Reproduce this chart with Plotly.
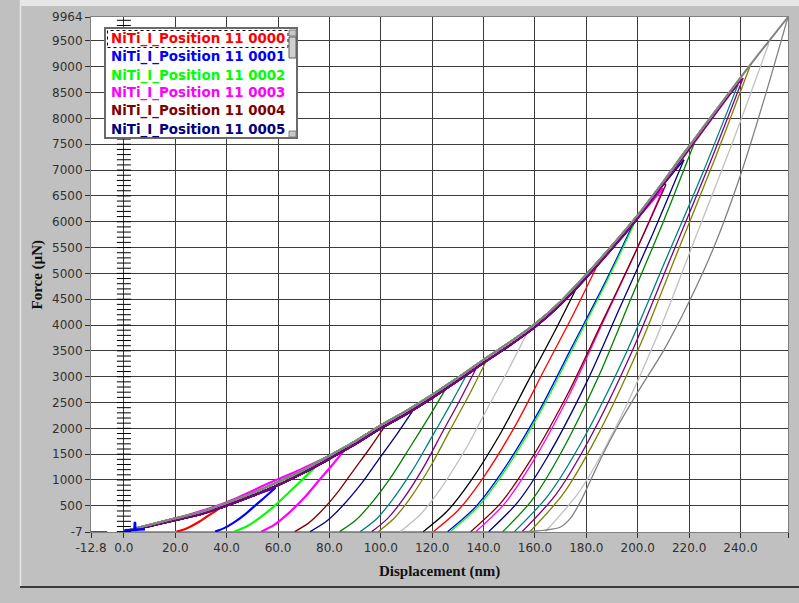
import plotly.graph_objects as go

# ---------------------------------------------------------------- data
# Loading envelope (displacement in nm, force in uN); the loading branches of the
# indents scatter between an upper and a lower edge of this band.
DEPTH_ENV = [0, 5, 10, 20, 30, 40, 50, 60, 70, 80, 90, 100, 110, 120, 130, 140,
             150, 160, 170, 180, 190, 200, 210, 220, 230, 240, 250, 258.5]
FORCE_ENV_HIGH = [0, 68, 132, 258, 380, 555, 748, 960, 1200, 1470, 1750, 2060, 2340,
                  2650, 2980, 3330, 3660, 4020, 4460, 4980, 5540, 6130, 6780, 7460,
                  8130, 8790, 9430, 9964]
FORCE_ENV_LOW = [0, 52, 108, 222, 340, 505, 692, 900, 1140, 1410, 1690, 2000, 2280,
                 2590, 2920, 3270, 3600, 3960, 4400, 4920, 5480, 6070, 6720, 7400,
                 8070, 8730, 9370, 9964]

# Indent series 0000 ... 0023
TEST_NAMES = ["NiTi_I_Position 11 %04d" % i for i in range(24)]
TEST_COLORS = ["#ff0000", "#0000ff", "#00ff00", "#ff00ff", "#800000", "#000080",
               "#008000", "#008080", "#800080", "#808000", "#c0c0c0", "#000000",
               "#ff0000", "#0000ff", "#00ff00", "#ff00ff", "#800000", "#000080",
               "#008000", "#008080", "#800080", "#808000", "#c0c0c0", "#808080"]
LOAD_EDGE = ["high", "low", "low", "high", "low", "low",
             "high", "high", "low", "low", "high", "low",
             "low", "low", "high", "low", "low", "low",
             "high", "high", "low", "high", "high", "high"]

# Unloading branches, from peak load down to zero load
UNLOAD_DEPTH = [
    [38, 35.2, 32.2, 29.3, 25.8, 23.1, 20.5],
    [59, 55.2, 51.2, 47.3, 42.6, 39.0, 35.5],
    [74, 69.0, 63.8, 58.5, 52.3, 47.7, 43],
    [87, 81.6, 75.9, 70.3, 63.5, 58.5, 53.5],
    [101, 95.5, 89.6, 83.8, 76.9, 71.7, 66.5],
    [113, 106.5, 99.6, 92.8, 84.7, 78.6, 72.5],
    [125, 118.4, 111.5, 104.5, 96.3, 90.2, 84],
    [133, 126.4, 119.5, 112.5, 104.3, 98.2, 92],
    [137, 130.5, 123.6, 116.8, 108.7, 102.6, 96.5],
    [141, 134.3, 127.1, 120.0, 111.6, 105.3, 99],
    [158, 149.9, 141.3, 132.8, 122.7, 115.1, 107.5],
    [177, 167.3, 157.0, 146.8, 134.7, 125.6, 116.5],
    [185, 174.7, 163.7, 152.8, 139.9, 130.2, 120.5],
    [198, 186.5, 174.2, 162.0, 147.6, 136.8, 126],
    [199, 187.5, 175.2, 163.0, 148.6, 137.8, 127],
    [210, 198.3, 185.9, 173.5, 158.9, 148.0, 137],
    [211, 198.8, 185.9, 173.0, 157.8, 146.4, 135],
    [218, 205.8, 192.9, 180.0, 164.8, 153.4, 142],
    [222, 210.1, 197.4, 184.8, 169.9, 158.7, 147.5],
    [239, 225.1, 210.3, 195.5, 178.1, 165.0, 152],
    [241, 227.2, 212.6, 198.0, 180.8, 167.9, 155],
    [244, 230.2, 215.6, 201.0, 183.8, 170.9, 158],
    [251, 237.1, 222.3, 207.5, 190.1, 177.0, 164],
    [258.5, 250, 240, 230, 220, 210, 200, 192, 186, 182, 178, 174, 170, 164, 155],
]
UNLOAD_FORCE = [
    [480, 384, 288, 192, 96, 38, 0],
    [850, 680, 510, 340, 170, 68, 0],
    [1230, 984, 738, 492, 246, 98, 0],
    [1650, 1320, 990, 660, 330, 132, 0],
    [2000, 1600, 1200, 800, 400, 160, 0],
    [2380, 1904, 1428, 952, 476, 190, 0],
    [2740, 2192, 1644, 1096, 548, 219, 0],
    [3000, 2400, 1800, 1200, 600, 240, 0],
    [3150, 2520, 1890, 1260, 630, 252, 0],
    [3300, 2640, 1980, 1320, 660, 264, 0],
    [3950, 3160, 2370, 1580, 790, 316, 0],
    [4800, 3840, 2880, 1920, 960, 384, 0],
    [5230, 4184, 3138, 2092, 1046, 418, 0],
    [5930, 4744, 3558, 2372, 1186, 474, 0],
    [6000, 4800, 3600, 2400, 1200, 480, 0],
    [6650, 5320, 3990, 2660, 1330, 532, 0],
    [6720, 5376, 4032, 2688, 1344, 538, 0],
    [7200, 5760, 4320, 2880, 1440, 576, 0],
    [7520, 6016, 4512, 3008, 1504, 602, 0],
    [8650, 6920, 5190, 3460, 1730, 692, 0],
    [8780, 7024, 5268, 3512, 1756, 702, 0],
    [9050, 7240, 5430, 3620, 1810, 724, 0],
    [9450, 7560, 5670, 3780, 1890, 756, 0],
    [9964, 8500, 6900, 5550, 4450, 3500, 2700, 2020, 1450, 1030, 610, 270, 90, 30, -7],
]

# Series 0003 was loaded slightly above the common envelope
LOAD_0003_DEPTH = [0, 20, 40, 57, 68.6, 76.4, 87]
LOAD_0003_FORCE = [0, 250, 570, 950, 1200, 1380, 1650]

# Approach / baseline segments and the contact spike of series 0001
BASE_DEPTH = [[-12.8, -6.5], [0.5, 160]]
BASE_FORCE = [[-7, -7], [-7, -7]]
BASE_COLORS = ["#b03030", "#70a8a8"]
SPIKE_DEPTH = [0.2, 2, 4.1, 4.3, 4.5, 6, 8.2]
SPIKE_FORCE = [25, 30, 35, 190, 35, 40, 45]

X_TICKS = [-12.8, 0, 20, 40, 60, 80, 100, 120, 140, 160, 180, 200, 220, 240, 258.5]
X_LABELS = ["-12.8", "0.0", "20.0", "40.0", "60.0", "80.0", "100.0", "120.0",
            "140.0", "160.0", "180.0", "200.0", "220.0", "240.0", "258.5"]
Y_TICKS = [-7] + list(range(500, 10000, 500)) + [9964]
Y_LABELS = [str(v) for v in Y_TICKS]

# ---------------------------------------------------------------- layout helpers
W, H = 799, 603
L, R, T, B = 91, 788, 17, 532          # plot-area edges in px


def px_x(px):
    return (px - L) / (R - L)


def px_y(py):
    return (B - py) / (B - T)


fig = go.Figure()

for bx, by, bc in zip(BASE_DEPTH, BASE_FORCE, BASE_COLORS):
    fig.add_trace(go.Scatter(x=bx, y=by, mode="lines", line=dict(color=bc, width=2),
                             showlegend=False, hoverinfo="skip"))

for i, name in enumerate(TEST_NAMES):
    h_max = UNLOAD_DEPTH[i][0]
    if i == 3:
        load_x, load_y = LOAD_0003_DEPTH, LOAD_0003_FORCE
    else:
        env = FORCE_ENV_HIGH if LOAD_EDGE[i] == "high" else FORCE_ENV_LOW
        load_x = [h for h in DEPTH_ENV if h < h_max]
        load_y = env[:len(load_x)]
        load_x = load_x + [h_max]
        load_y = load_y + [UNLOAD_FORCE[i][0]]
    thin = 2.2 if i < 4 else 1.3
    thick = 2.2 if i < 4 else 1.8
    # loading branch
    fig.add_trace(go.Scatter(x=load_x, y=load_y, mode="lines", name=name,
                             line=dict(color=TEST_COLORS[i], width=thick,
                                       shape="spline", smoothing=0.8),
                             showlegend=False))
    # unloading branch
    fig.add_trace(go.Scatter(x=UNLOAD_DEPTH[i], y=UNLOAD_FORCE[i], mode="lines",
                             name=name,
                             line=dict(color=TEST_COLORS[i], width=thin,
                                       shape="spline", smoothing=0.8),
                             showlegend=False))

fig.add_trace(go.Scatter(x=SPIKE_DEPTH, y=SPIKE_FORCE, mode="lines",
                         line=dict(color="#0000ff", width=2.5),
                         showlegend=False, hoverinfo="skip"))

# minor tick ladder on the zero-displacement line
fig.add_trace(go.Scatter(x=[0] * 100, y=list(range(0, 10000, 100)), mode="markers",
                         marker=dict(symbol="line-ew", size=10,
                                     line=dict(color="#000000", width=1)),
                         showlegend=False, hoverinfo="skip", cliponaxis=True))

tick_font = dict(family="DejaVu Sans", size=12, color="#303030")

fig.update_layout(
    width=W, height=H, autosize=False,
    margin=dict(l=L, r=W - R, t=T, b=H - B, pad=0),
    paper_bgcolor="#c0c0c0", plot_bgcolor="#ffffff",
    xaxis=dict(range=[-12.8, 258.5], tickvals=X_TICKS, ticktext=X_LABELS,
               showgrid=True, gridcolor="#3c3c3c", gridwidth=1, zeroline=False,
               showline=True, linecolor="#808080", linewidth=1, mirror=True,
               ticks="outside", ticklen=5, tickcolor="#303030",
               tickfont=tick_font),
    yaxis=dict(range=[-7, 9964], tickvals=Y_TICKS, ticktext=Y_LABELS,
               showgrid=True, gridcolor="#3c3c3c", gridwidth=1, zeroline=False,
               showline=True, linecolor="#808080", linewidth=1, mirror=True,
               ticks="outside", ticklen=5, tickcolor="#303030",
               tickfont=tick_font),
)

title_font = dict(family="Liberation Serif", size=15, color="#101010")
annotations = [
    dict(text="<b>Displacement (nm)</b>", x=0.5, y=px_y(571), xref="paper", yref="paper",
         showarrow=False, font=title_font, xanchor="center", yanchor="middle"),
    dict(text="<b>Force (µN)</b>", x=px_x(37), y=0.5, xref="paper", yref="paper",
         showarrow=False, font=title_font, textangle=-90,
         xanchor="center", yanchor="middle"),
]

# legend list box (first six series)
legend_rows = [39, 57, 75.5, 93.5, 111.5, 129.5]
for k, row in enumerate(legend_rows):
    annotations.append(dict(
        text="<b>%s</b>" % TEST_NAMES[k], x=px_x(108.5), y=px_y(row),
        xref="paper", yref="paper", showarrow=False, xanchor="left", yanchor="middle",
        font=dict(family="DejaVu Sans", size=13.4, color=TEST_COLORS[k])))

shapes = [
    # raised panel edges
    dict(type="rect", xref="paper", yref="paper", x0=px_x(20), x1=px_x(800),
         y0=px_y(6), y1=px_y(-2), fillcolor="#e6e6e6", line=dict(width=0), layer="below"),
    dict(type="line", xref="paper", yref="paper", x0=px_x(20.5), x1=px_x(20.5),
         y0=px_y(587), y1=px_y(0), line=dict(color="#e6e6e6", width=1.5)),
    dict(type="line", xref="paper", yref="paper", x0=px_x(20), x1=px_x(800),
         y0=px_y(587), y1=px_y(587), line=dict(color="#3a3a3a", width=2)),
    # legend box
    dict(type="rect", xref="paper", yref="paper", x0=px_x(105), x1=px_x(297),
         y0=px_y(138), y1=px_y(28), fillcolor="#ffffff",
         line=dict(color="#6a6a6a", width=2)),
    # focus outline on first entry
    dict(type="rect", xref="paper", yref="paper", x0=px_x(107.5), x1=px_x(288),
         y0=px_y(47.5), y1=px_y(30.5), line=dict(color="#000000", width=1, dash="dot")),
    # scroll bar
    dict(type="rect", xref="paper", yref="paper", x0=px_x(289), x1=px_x(296),
         y0=px_y(36), y1=px_y(30), fillcolor="#c8c8c8", line=dict(color="#808080", width=1)),
    dict(type="rect", xref="paper", yref="paper", x0=px_x(289), x1=px_x(296),
         y0=px_y(58), y1=px_y(37), fillcolor="#d0d0d0", line=dict(color="#606060", width=1)),
    dict(type="rect", xref="paper", yref="paper", x0=px_x(289), x1=px_x(296),
         y0=px_y(137), y1=px_y(131), fillcolor="#c8c8c8", line=dict(color="#808080", width=1)),
]

fig.update_layout(annotations=annotations, shapes=shapes)

fig.write_html("out.html")
